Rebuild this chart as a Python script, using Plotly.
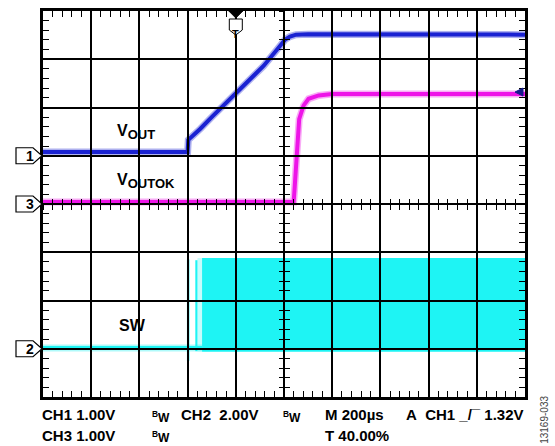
import plotly.graph_objects as go

# scope settings: 10 x 8 divisions, M 200us/div, trigger at 40 %
t_range = [-800, 1200]          # us
ch1_range = [-5, 3]             # CH1 1.00V/div, ground 1 div above centre
ch3_range = [-4, 4]             # CH3 1.00V/div, ground at centre
ch2_range = [-2, 14]            # CH2 2.00V/div, ground 3 div below centre

# VOUT (CH1)
vout_t = [-800, -200, -197, -185, -147, -100, -50, 0, 60, 115, 168, 185, 205, 225, 250, 300, 1200]
vout_v = [0.08, 0.08, 0.33, 0.38, 0.56, 0.80, 1.05, 1.31, 1.60, 1.86, 2.18, 2.30, 2.41, 2.47, 2.51, 2.52, 2.51]

# VOUTOK (CH3)
voutok_t = [-800, 240, 244, 254, 263, 281, 302, 344, 400, 1200]
voutok_v = [0.04, 0.04, 0.32, 1.28, 1.76, 2.04, 2.18, 2.25, 2.28, 2.28]

# SW (CH2): idle level, first pulses and the switching envelope
sw_idle_t = [-800, -140]
sw_idle_v = [0.03, 0.03]
sw_glitch_t = [-197, -197]
sw_glitch_v = [-0.5, 3.70]
sw_pulse_t = [-168, -159]
sw_pulse_v = [-0.10, 3.67]
sw_gap_t = [-159, -140]
sw_band_t = [-140, 1200]
sw_band_v = [-0.12, 3.76]

trig_level = 1.32

BLUE = '#1a22d2'
MAGENTA = '#ee14e8'
CYAN = '#1ef4f4'
FONT = 'Liberation Sans, Arial, sans-serif'
PLOT_W, PLOT_H = 482, 389


def rect(t, v):
    return [t[0], t[1], t[1], t[0], t[0]], [v[0], v[0], v[1], v[1], v[0]]


def trace_line(t, v, yaxis, color, halo):
    # persistence blur of the scope trace: a faint wide stroke under the core line
    return [go.Scatter(x=t, y=v, yaxis=yaxis, mode='lines', opacity=0.35,
                       line=dict(color=color, width=7), hoverinfo='skip'),
            go.Scatter(x=t, y=v, yaxis=yaxis, mode='lines',
                       line=dict(color=color, width=halo))]


traces = []
# switching node
x, y = rect(sw_gap_t, sw_band_v)
traces.append(go.Scatter(x=x, y=y, yaxis='y3', fill='toself', fillcolor='rgba(30,244,244,0.25)',
                         line=dict(width=0), mode='lines'))
x, y = rect(sw_band_t, sw_band_v)
traces.append(go.Scatter(x=x, y=y, yaxis='y3', fill='toself', fillcolor=CYAN,
                         line=dict(width=0), mode='lines'))
x, y = rect(sw_pulse_t, sw_pulse_v)
traces.append(go.Scatter(x=x, y=y, yaxis='y3', fill='toself', fillcolor=CYAN,
                         line=dict(width=0), mode='lines'))
traces.append(go.Scatter(x=sw_glitch_t, y=sw_glitch_v, yaxis='y3', mode='lines',
                         line=dict(color='rgba(30,244,244,0.45)', width=3)))
traces += trace_line(sw_idle_t, sw_idle_v, 'y3', CYAN, 4)
# VOUTOK and VOUT
traces += trace_line(voutok_t, voutok_v, 'y2', MAGENTA, 4)
traces += trace_line(vout_t, vout_v, 'y', BLUE, 4)
# empty traces so the overlay axes (grid + centre ticks) get drawn
for xa, ya in [('x2', 'y'), ('x3', 'y'), ('x4', 'y'), ('x', 'y4'), ('x', 'y5'), ('x', 'y6')]:
    traces.append(go.Scatter(x=[None], y=[None], xaxis=xa, yaxis=ya, hoverinfo='skip'))

fig = go.Figure(data=traces)

border = dict(showline=True, linecolor='black', linewidth=2.5, mirror='ticks',
              showgrid=False, zeroline=False,
              ticks='inside', ticklen=6, tickwidth=1.3, tickcolor='black',
              showticklabels=False, fixedrange=True)
centre = dict(showline=False, showgrid=False, zeroline=False, showticklabels=False,
              ticklen=5, tickwidth=1.3, tickcolor='black', anchor='free', position=0.5)
# graticule drawn as full-length ticks so it stays on top of the traces
grid = dict(showline=False, showgrid=False, zeroline=False, showticklabels=False,
            ticks='inside', tickwidth=1.6, tickcolor='black')

fig.update_layout(
    width=555, height=446,
    margin=dict(l=43, r=30, t=8, b=49),
    paper_bgcolor='white', plot_bgcolor='white',
    showlegend=False,
    xaxis=dict(range=t_range, dtick=200,
               minor=dict(dtick=40, ticks='inside', ticklen=6, tickwidth=1.3, tickcolor='black', showgrid=False),
               **border),
    yaxis=dict(range=ch1_range, dtick=1,
               minor=dict(dtick=0.2, ticks='inside', ticklen=6, tickwidth=1.3, tickcolor='black', showgrid=False),
               **border),
    yaxis2=dict(range=ch3_range, overlaying='y', visible=False),
    yaxis3=dict(range=ch2_range, overlaying='y', visible=False),
    xaxis2=dict(range=t_range, overlaying='x', dtick=40, ticks='inside', **centre),
    xaxis3=dict(range=t_range, overlaying='x', dtick=40, ticks='outside', **centre),
    xaxis4=dict(range=t_range, overlaying='x', anchor='y', dtick=200, ticklen=PLOT_H, **grid),
    yaxis4=dict(range=ch3_range, overlaying='y', dtick=0.2, ticks='inside', **centre),
    yaxis5=dict(range=ch3_range, overlaying='y', dtick=0.2, ticks='outside', **centre),
    yaxis6=dict(range=ch1_range, overlaying='y', anchor='x', dtick=1, ticklen=PLOT_W, **grid),
)

# channel ground markers
markers = [('1', 'y', 0), ('3', 'y2', 0), ('2', 'y3', 0)]
for label, yref, level in markers:
    fig.add_shape(type='path', xref='paper', yref=yref, xsizemode='pixel', ysizemode='pixel',
                  xanchor=0, yanchor=level,
                  path='M -27 -8 L -10 -8 L -1 0 L -10 8 L -27 8 Z',
                  fillcolor='white', line=dict(color='black', width=1.2))
    fig.add_annotation(text='<b>%s</b>' % label, xref='paper', yref=yref, x=0, y=level,
                       xshift=-19, showarrow=False, font=dict(family=FONT, size=14, color='black'))

# trigger position marker (top) and trigger level marker (right)
fig.add_shape(type='path', xref='x', yref='paper', xsizemode='pixel', ysizemode='pixel',
              xanchor=0, yanchor=1, path='M -7 0 L 7 0 L 0 -7 Z',
              fillcolor='black', line=dict(color='black', width=1))
fig.add_shape(type='path', xref='x', yref='paper', xsizemode='pixel', ysizemode='pixel',
              xanchor=0, yanchor=1, path='M -6.5 -8 L 6.5 -8 L 6.5 -19 L 0 -24 L -6.5 -19 Z',
              fillcolor='white', line=dict(color='black', width=1))
fig.add_annotation(text='<b>T</b>', xref='x', yref='paper', x=0, y=1, yshift=-15,
                   showarrow=False, font=dict(family=FONT, size=11, color='black'))
fig.add_shape(type='path', xref='paper', yref='y', xsizemode='pixel', ysizemode='pixel',
              xanchor=1, yanchor=trig_level, path='M -10 0 L -2 4 L -2 -4 Z',
              fillcolor='#141a8c', line=dict(color='#141a8c', width=1))


def px(xp):
    return (xp - 43) / 482.0


def py(yp):
    return (397 - yp) / 389.0


labels = [
    ('<b>V<sub><span style="font-size:13px">OUT</span></sub></b>', 115, 130, 16),
    ('<b>V<sub><span style="font-size:13px">OUTOK</span></sub></b>', 115, 179, 16),
    ('<b>SW</b>', 117, 325, 16),
]
for text, xp, yp, size in labels:
    fig.add_annotation(text=text, xref='paper', yref='paper', x=px(xp), y=py(yp),
                       xanchor='left', yanchor='middle', showarrow=False,
                       font=dict(family=FONT, size=size, color='black'))

footer = [
    ('CH1 1.00V', 40, 415, 15),
    ('<sup>B</sup>W', 150, 417, 12),
    ('CH2\u00a0\u00a02.00V', 179, 415, 15),
    ('<sup>B</sup>W', 281, 417, 12),
    ('M 200\u00b5s', 323, 415, 15),
    ('A\u00a0\u00a0CH1 _/\u00af 1.32V', 404, 415, 15),
    ('CH3 1.00V', 40, 435.5, 15),
    ('<sup>B</sup>W', 150, 437.5, 12),
    ('T 40.00%', 323, 435.5, 15),
]
for text, xp, yp, size in footer:
    fig.add_annotation(text='<b>%s</b>' % text, xref='paper', yref='paper', x=px(xp), y=py(yp),
                       xanchor='left', yanchor='middle', showarrow=False,
                       font=dict(family=FONT, size=size, color='black'))

fig.add_annotation(text='13169-033', xref='paper', yref='paper', x=px(545), y=py(420),
                   textangle=-90, showarrow=False, xanchor='center', yanchor='middle',
                   font=dict(family=FONT, size=10, color='#444444'))

# the page body has a default 8px margin; drop it so the figure sits at the window origin
fig.write_html('out.html', config={'displayModeBar': False},
               post_script="document.body.style.margin='0px';")
